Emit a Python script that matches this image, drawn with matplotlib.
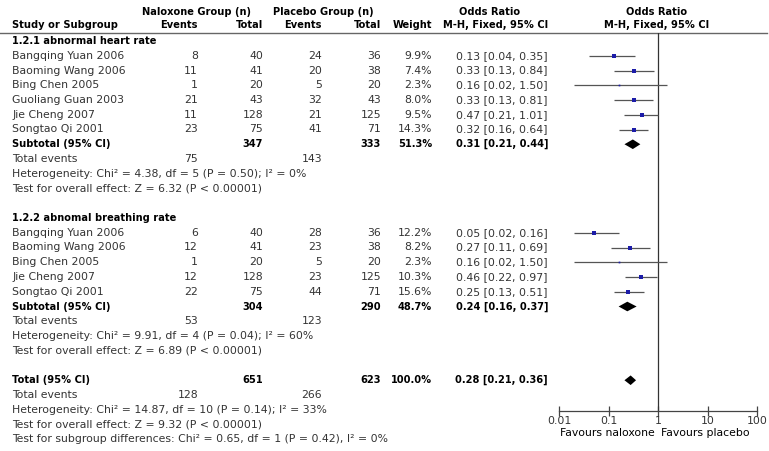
import matplotlib
matplotlib.use("Agg")
import matplotlib.pyplot as plt
from matplotlib.patches import Polygon
import numpy as np

# ---- data ----
hr_studies = ["Bangqing Yuan 2006", "Baoming Wang 2006", "Bing Chen 2005",
              "Guoliang Guan 2003", "Jie Cheng 2007", "Songtao Qi 2001"]
hr_nal_events = [8, 11, 1, 21, 11, 23]
hr_nal_total = [40, 41, 20, 43, 128, 75]
hr_pla_events = [24, 20, 5, 32, 21, 41]
hr_pla_total = [36, 38, 20, 43, 125, 71]
hr_weight = [9.9, 7.4, 2.3, 8.0, 9.5, 14.3]
hr_or = [0.13, 0.33, 0.16, 0.33, 0.47, 0.32]
hr_lo = [0.04, 0.13, 0.02, 0.13, 0.21, 0.16]
hr_hi = [0.35, 0.84, 1.50, 0.81, 1.01, 0.64]

br_studies = ["Bangqing Yuan 2006", "Baoming Wang 2006", "Bing Chen 2005",
              "Jie Cheng 2007", "Songtao Qi 2001"]
br_nal_events = [6, 12, 1, 12, 22]
br_nal_total = [40, 41, 20, 128, 75]
br_pla_events = [28, 23, 5, 23, 44]
br_pla_total = [36, 38, 20, 125, 71]
br_weight = [12.2, 8.2, 2.3, 10.3, 15.6]
br_or = [0.05, 0.27, 0.16, 0.46, 0.25]
br_lo = [0.02, 0.11, 0.02, 0.22, 0.13]
br_hi = [0.16, 0.69, 1.50, 0.97, 0.51]

# subtotal / total: [nal total, pla total, nal events, pla events, weight, OR, lo, hi]
sub_hr = [347, 333, 75, 143, 51.3, 0.31, 0.21, 0.44]
sub_br = [304, 290, 53, 123, 48.7, 0.24, 0.16, 0.37]
overall = [651, 623, 128, 266, 100.0, 0.28, 0.21, 0.36]

het_hr = ["Heterogeneity: Chi\u00b2 = 4.38, df = 5 (P = 0.50); I\u00b2 = 0%",
          "Test for overall effect: Z = 6.32 (P < 0.00001)"]
het_br = ["Heterogeneity: Chi\u00b2 = 9.91, df = 4 (P = 0.04); I\u00b2 = 60%",
          "Test for overall effect: Z = 6.89 (P < 0.00001)"]
het_all = ["Heterogeneity: Chi\u00b2 = 14.87, df = 10 (P = 0.14); I\u00b2 = 33%",
           "Test for overall effect: Z = 9.32 (P < 0.00001)",
           "Test for subgroup differences: Chi\u00b2 = 0.65, df = 1 (P = 0.42), I\u00b2 = 0%"]

axis_ticks = [0.01, 0.1, 1, 10, 100]
axis_labels = ["0.01", "0.1", "1", "10", "100"]

# ---- layout (pixels) ----
W, H = 769, 451
Y0, STEP = 41, 14.75
FS = 7.8       # normal text
FSB = 7.15     # bold text
TXT = "#333333"
X_NAME, X_NE, X_NT, X_PE, X_PT, X_W, X_OR = 12, 198, 263, 322, 381, 432, 548
PX_L, PX_R, PX_TOP, PX_AX = 559, 757, 33, 411

plt.rcParams['font.family'] = ['DejaVu Sans']

fig = plt.figure(figsize=(W / 100, H / 100), dpi=100)
ax = fig.add_axes([0, 0, 1, 1])
ax.set_xlim(0, W)
ax.set_ylim(H, 0)
ax.axis("off")

fa = fig.add_axes([PX_L / W, (H - PX_AX) / H, (PX_R - PX_L) / W, (PX_AX - PX_TOP) / H])
fa.set_xscale("log")
fa.set_xlim(0.01, 100)
fa.set_ylim(PX_AX, PX_TOP)
fa.patch.set_alpha(0)
for s in ["top", "right", "left"]:
    fa.spines[s].set_visible(False)
fa.spines["bottom"].set_color("#444444")
fa.spines["bottom"].set_linewidth(0.9)
fa.set_yticks([])
fa.set_xticks(axis_ticks)
fa.set_xticklabels(axis_labels)
fa.minorticks_off()
fa.tick_params(axis="x", direction="inout", length=7, width=0.9, color="#444444",
               labelsize=FS, labelcolor=TXT, pad=0)
fa.axvline(1, color="#333333", lw=0.9)


def ry(r):
    return Y0 + r * STEP


def t(x, r, s, ha="left", bold=False):
    ax.text(x, ry(r), s, ha=ha, va="center", fontsize=FSB if bold else FS,
            fontweight="bold" if bold else "normal", color="black" if bold else TXT)


# header
for x, s in [(197, "Naloxone Group (n)"), (323, "Placebo Group (n)"),
             (490, "Odds Ratio"), (657, "Odds Ratio")]:
    ax.text(x, 12, s, ha="center", va="center", fontsize=FSB, fontweight="bold")
for x, s, ha in [(X_NAME, "Study or Subgroup", "left"), (X_NE, "Events", "right"),
                 (X_NT, "Total", "right"), (X_PE, "Events", "right"), (X_PT, "Total", "right"),
                 (X_W, "Weight", "right"), (X_OR, "M-H, Fixed, 95% CI", "right"),
                 (657, "M-H, Fixed, 95% CI", "center")]:
    ax.text(x, 25, s, ha=ha, va="center", fontsize=FSB, fontweight="bold")
ax.plot([0, 767], [33, 33], color="#666666", lw=1)


def draw_group(r0, title, names, ne, nt, pe, pt, w, orv, lo, hi, sub, het):
    t(X_NAME, r0, title, bold=True)
    for i, name in enumerate(names):
        r = r0 + 1 + i
        t(X_NAME, r, name)
        t(X_NE, r, str(ne[i]), ha="right")
        t(X_NT, r, str(nt[i]), ha="right")
        t(X_PE, r, str(pe[i]), ha="right")
        t(X_PT, r, str(pt[i]), ha="right")
        t(X_W, r, f"{w[i]:.1f}%", ha="right")
        t(X_OR, r, f"{orv[i]:.2f} [{lo[i]:.2f}, {hi[i]:.2f}]", ha="right")
        fa.plot([lo[i], hi[i]], [ry(r), ry(r)], color="#555555", lw=0.9, solid_capstyle="butt",
                clip_on=False)
        side = 4.4 * np.sqrt(w[i] / 15.6)
        fa.plot([orv[i]], [ry(r)], marker="s", ms=side / 1.389, color="#1c1ca8", mew=0,
                clip_on=False)
    r = r0 + 1 + len(names)
    draw_total(r, "Subtotal (95% CI)", sub)
    t(X_NAME, r + 2, het[0])
    t(X_NAME, r + 3, het[1])


def draw_total(r, label, v):
    t(X_NAME, r, label, bold=True)
    t(X_NT, r, str(v[0]), ha="right", bold=True)
    t(X_PT, r, str(v[1]), ha="right", bold=True)
    t(X_W, r, f"{v[4]:.1f}%", ha="right", bold=True)
    t(X_OR, r, f"{v[5]:.2f} [{v[6]:.2f}, {v[7]:.2f}]", ha="right", bold=True)
    t(X_NAME, r + 1, "Total events")
    t(X_NE, r + 1, str(v[2]), ha="right")
    t(X_PE, r + 1, str(v[3]), ha="right")
    y = ry(r)
    fa.add_patch(Polygon([[v[6], y], [v[5], y - 4.8], [v[7], y], [v[5], y + 4.8]],
                         closed=True, color="black", lw=0))


draw_group(0, "1.2.1 abnormal heart rate", hr_studies, hr_nal_events, hr_nal_total,
           hr_pla_events, hr_pla_total, hr_weight, hr_or, hr_lo, hr_hi, sub_hr, het_hr)
draw_group(12, "1.2.2 abnomal breathing rate", br_studies, br_nal_events, br_nal_total,
           br_pla_events, br_pla_total, br_weight, br_or, br_lo, br_hi, sub_br, het_br)
draw_total(23, "Total (95% CI)", overall)
for i, s in enumerate(het_all):
    t(X_NAME, 25 + i, s)

ax.text(607, 433, "Favours naloxone", ha="center", va="center", fontsize=FS, color="black")
ax.text(705, 433, "Favours placebo", ha="center", va="center", fontsize=FS, color="black")

fig.savefig("out.png", dpi=100)
